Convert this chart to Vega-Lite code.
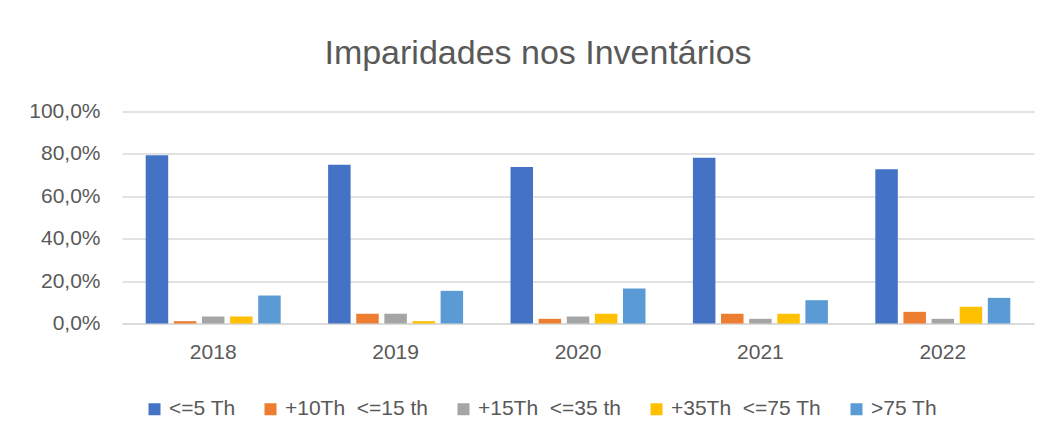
{
  "$schema": "https://vega.github.io/schema/vega-lite/v6.json",
  "width": 912,
  "height": 212,
  "autosize": {"type": "none"},
  "padding": {"left": 122, "top": 111.5, "right": 22, "bottom": 115.5},
  "background": "white",
  "config": {
    "font": "Liberation Sans",
    "view": {"stroke": null},
    "locale": {"number": {"decimal": ",", "thousands": ".", "grouping": [3], "currency": ["", " €"]}}
  },
  "title": {
    "text": "Imparidades nos Inventários",
    "fontSize": 34,
    "fontWeight": "normal",
    "color": "#595959",
    "anchor": "middle",
    "dx": -40,
    "offset": 30
  },
  "data": {
    "values": [
      {"ano": "2018", "serie": "<=5 Th", "valor": 0.794},
      {"ano": "2018", "serie": "+10Th  <=15 th", "valor": 0.011},
      {"ano": "2018", "serie": "+15Th  <=35 th", "valor": 0.033},
      {"ano": "2018", "serie": "+35Th  <=75 Th", "valor": 0.033},
      {"ano": "2018", "serie": ">75 Th", "valor": 0.132},
      {"ano": "2019", "serie": "<=5 Th", "valor": 0.749},
      {"ano": "2019", "serie": "+10Th  <=15 th", "valor": 0.046},
      {"ano": "2019", "serie": "+15Th  <=35 th", "valor": 0.046},
      {"ano": "2019", "serie": "+35Th  <=75 Th", "valor": 0.011},
      {"ano": "2019", "serie": ">75 Th", "valor": 0.154},
      {"ano": "2020", "serie": "<=5 Th", "valor": 0.738},
      {"ano": "2020", "serie": "+10Th  <=15 th", "valor": 0.022},
      {"ano": "2020", "serie": "+15Th  <=35 th", "valor": 0.033},
      {"ano": "2020", "serie": "+35Th  <=75 Th", "valor": 0.046},
      {"ano": "2020", "serie": ">75 Th", "valor": 0.165},
      {"ano": "2021", "serie": "<=5 Th", "valor": 0.782},
      {"ano": "2021", "serie": "+10Th  <=15 th", "valor": 0.046},
      {"ano": "2021", "serie": "+15Th  <=35 th", "valor": 0.022},
      {"ano": "2021", "serie": "+35Th  <=75 Th", "valor": 0.046},
      {"ano": "2021", "serie": ">75 Th", "valor": 0.110},
      {"ano": "2022", "serie": "<=5 Th", "valor": 0.728},
      {"ano": "2022", "serie": "+10Th  <=15 th", "valor": 0.055},
      {"ano": "2022", "serie": "+15Th  <=35 th", "valor": 0.022},
      {"ano": "2022", "serie": "+35Th  <=75 Th", "valor": 0.079},
      {"ano": "2022", "serie": ">75 Th", "valor": 0.121}
    ]
  },
  "mark": {"type": "bar"},
  "encoding": {
    "x": {
      "field": "ano",
      "type": "nominal",
      "scale": {"paddingInner": 0.26, "paddingOuter": 0.13},
      "axis": {
        "title": null,
        "labelAngle": 0,
        "labelFontSize": 21,
        "labelColor": "#595959",
        "labelPadding": 18,
        "ticks": false,
        "domainColor": "#d9d9d9",
        "domainWidth": 1.5
      }
    },
    "xOffset": {
      "field": "serie",
      "sort": ["<=5 Th", "+10Th  <=15 th", "+15Th  <=35 th", "+35Th  <=75 Th", ">75 Th"],
      "scale": {"paddingInner": 0.2, "paddingOuter": 0}
    },
    "y": {
      "field": "valor",
      "type": "quantitative",
      "scale": {"domain": [0, 1]},
      "axis": {
        "title": null,
        "values": [0, 0.2, 0.4, 0.6, 0.8, 1],
        "format": ".1%",
        "labelFontSize": 21,
        "labelColor": "#595959",
        "labelPadding": 22,
        "ticks": false,
        "domain": false,
        "gridColor": "#d9d9d9",
        "gridWidth": 1.5
      }
    },
    "color": {
      "field": "serie",
      "type": "nominal",
      "scale": {
        "domain": ["<=5 Th", "+10Th  <=15 th", "+15Th  <=35 th", "+35Th  <=75 Th", ">75 Th"],
        "range": ["#4472C4", "#ED7D31", "#A5A5A5", "#FFC000", "#5B9BD5"]
      },
      "legend": {
        "title": null,
        "orient": "none",
        "legendX": 22,
        "legendY": 287,
        "direction": "horizontal",
        "columns": 5,
        "columnPadding": 24,
        "symbolType": "square",
        "symbolSize": 144,
        "symbolStrokeWidth": 0,
        "labelFontSize": 21,
        "labelColor": "#595959",
        "labelOffset": 4,
        "labelExpr": "replace(datum.label, '  ', ' \u00a0')"
      }
    }
  }
}
